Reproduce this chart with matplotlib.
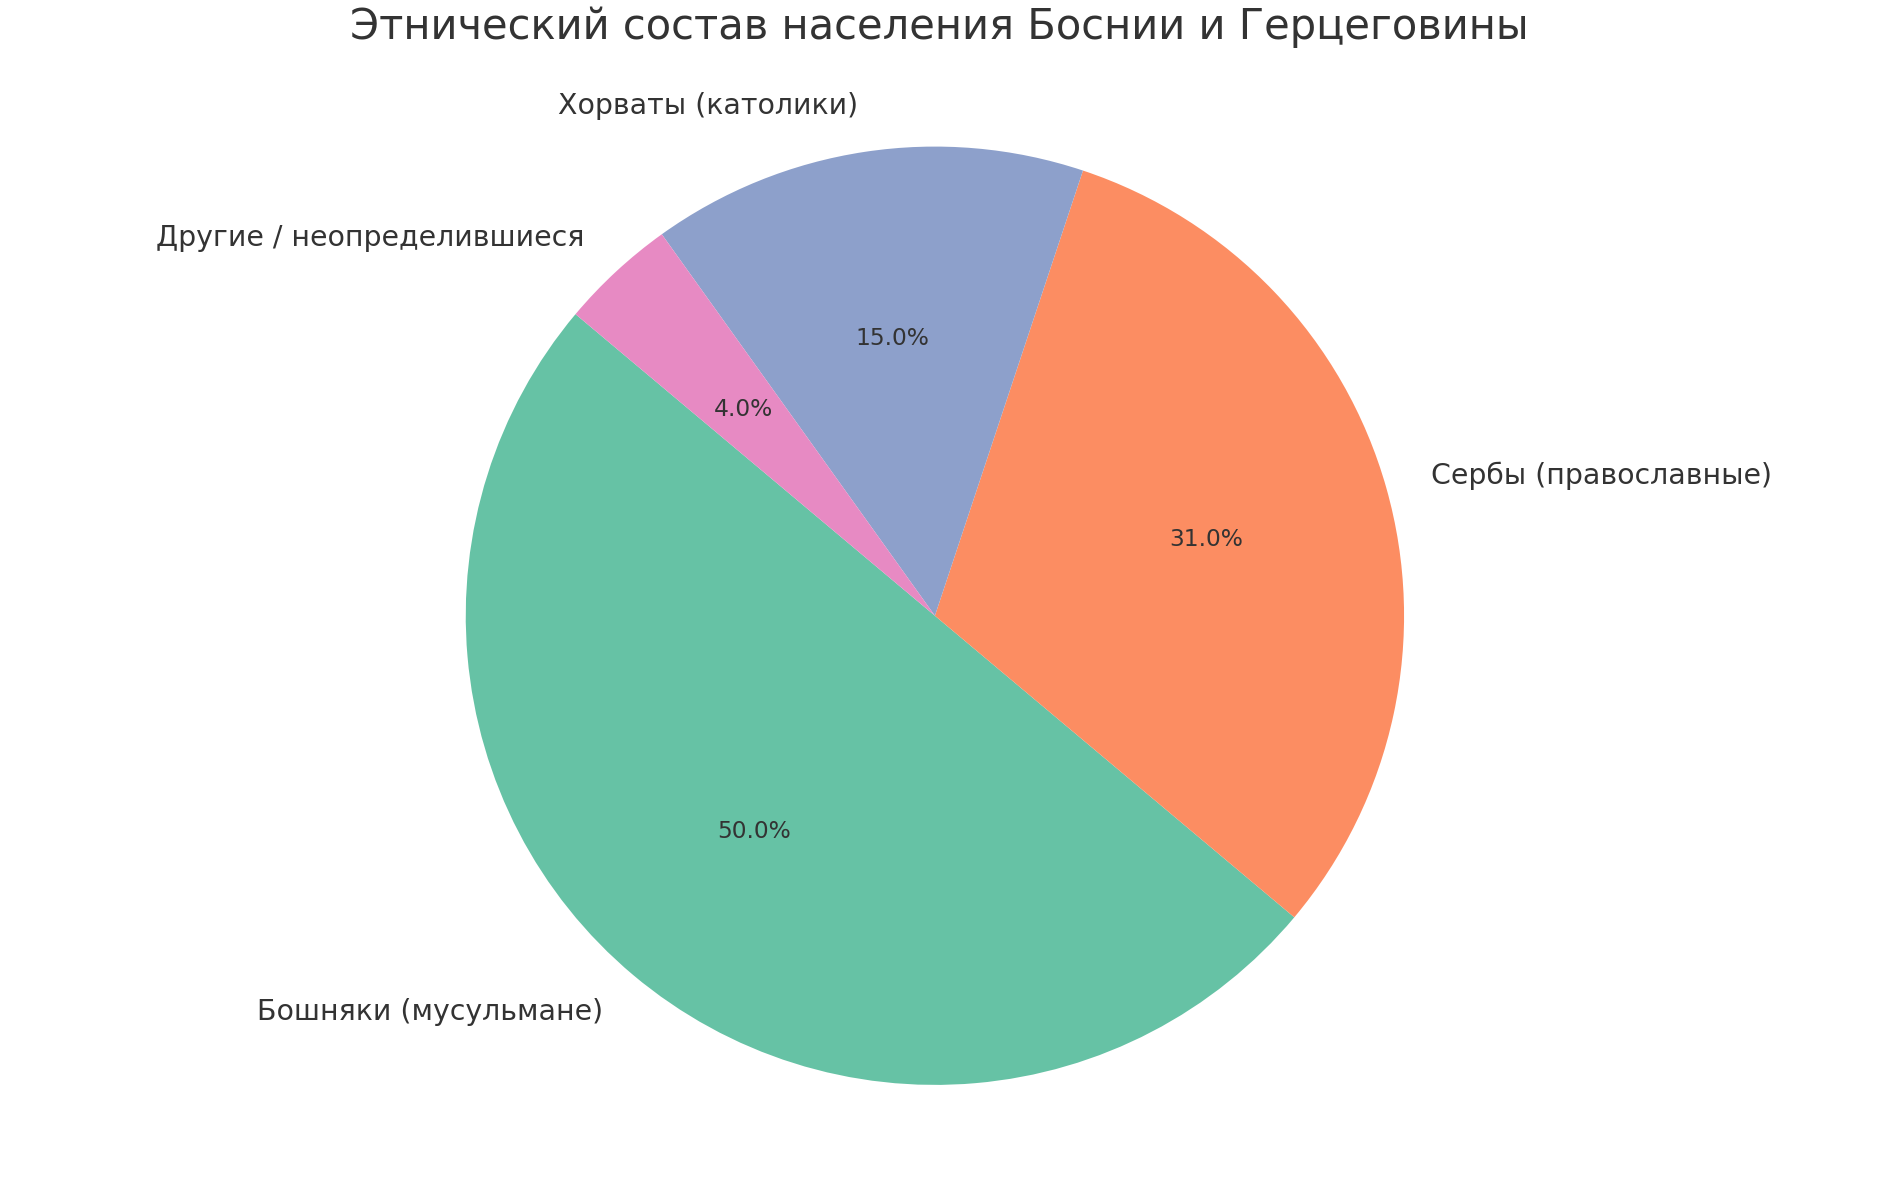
import matplotlib
matplotlib.use("Agg")
import matplotlib.pyplot as plt

labels = ["Бошняки (мусульмане)", "Сербы (православные)", "Хорваты (католики)", "Другие / неопределившиеся"]
shares = [50, 31, 15, 4]
colors = ["#66c2a5", "#fc8d62", "#8da0cb", "#e78ac3"]

plt.rcParams['font.family'] = ['DejaVu Sans']
plt.rcParams['text.color'] = '#333333'

fig, ax = plt.subplots(figsize=(15.66, 9.83), dpi=120)
fig.subplots_adjust(left=0.05, right=0.945, bottom=0.04, top=0.915)
wedges, texts, autotexts = ax.pie(shares, labels=labels, colors=colors, startangle=140,
                                  autopct='%1.1f%%', textprops={'fontsize': 17, 'color': '#333333'})
for t in autotexts:
    t.set_fontsize(14)
ax.axis('equal')
fig.suptitle("Этнический состав населения Боснии и Герцеговины", fontsize=25, color='#333333', y=0.995)
plt.savefig("out.png")
